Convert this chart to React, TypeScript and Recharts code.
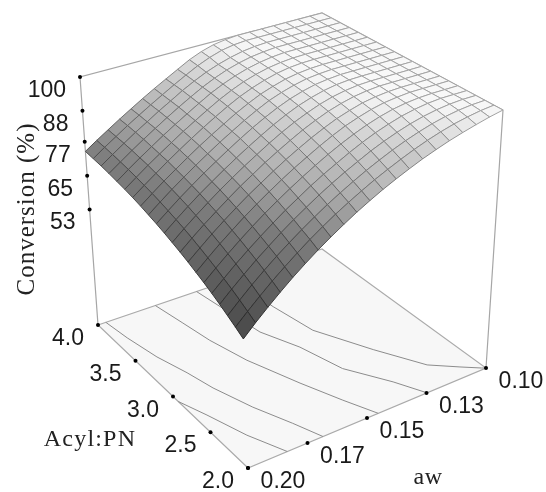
import React from "react";
import { Scatter, ScatterChart, XAxis, YAxis } from "recharts";

const awValues = [0.2, 0.195, 0.19, 0.185, 0.18, 0.175, 0.17, 0.165, 0.16, 0.155, 0.15, 0.145, 0.14, 0.135, 0.13, 0.125, 0.12, 0.115, 0.11, 0.105, 0.1];
const acylValues = [4.0, 3.9, 3.8, 3.7, 3.6, 3.5, 3.4, 3.3, 3.2, 3.1, 3.0, 2.9, 2.8, 2.7, 2.6, 2.5, 2.4, 2.3, 2.2, 2.1, 2.0];

// rows follow acylValues, columns follow awValues
const conversion = [
  [73.6, 76.3, 78.9, 81.5, 84.0, 86.5, 88.9, 91.2, 93.5, 95.8, 97.6, 98.9, 99.6, 100, 100, 100, 100, 100, 100, 100, 100],
  [73.2, 76.0, 78.6, 81.3, 83.8, 86.3, 88.7, 91.1, 93.4, 95.6, 97.4, 98.8, 99.6, 100, 100, 100, 100, 100, 100, 100, 100],
  [72.8, 75.6, 78.3, 81.0, 83.5, 86.1, 88.5, 91.0, 93.2, 95.2, 96.8, 98.1, 99.1, 99.7, 100, 100, 100, 100, 100, 100, 100],
  [72.3, 75.1, 77.9, 80.6, 83.2, 85.8, 88.3, 90.7, 93.0, 95.0, 96.7, 98.0, 99.0, 99.6, 100, 100, 100, 100, 100, 100, 100],
  [71.7, 74.6, 77.4, 80.1, 82.8, 85.4, 87.9, 90.4, 92.8, 94.8, 96.5, 97.9, 98.9, 99.6, 100, 100, 100, 100, 100, 100, 100],
  [71.1, 74.0, 76.9, 79.6, 82.3, 85.0, 87.5, 90.0, 92.4, 94.5, 96.3, 97.7, 98.8, 99.5, 99.9, 100, 100, 100, 100, 100, 100],
  [70.4, 73.3, 76.2, 79.1, 81.8, 84.5, 87.1, 89.6, 92.0, 94.2, 96.0, 97.5, 98.7, 99.5, 99.9, 100, 100, 100, 100, 100, 100],
  [69.6, 72.6, 75.6, 78.4, 81.2, 83.9, 86.5, 89.0, 91.5, 93.7, 95.7, 97.2, 98.5, 99.3, 99.8, 100, 100, 100, 100, 100, 100],
  [68.7, 71.8, 74.8, 77.7, 80.5, 83.2, 85.9, 88.4, 90.9, 93.2, 95.3, 96.9, 98.2, 99.2, 99.7, 100, 100, 100, 100, 100, 100],
  [67.8, 70.9, 74.0, 76.9, 79.8, 82.5, 85.2, 87.8, 90.3, 92.6, 94.7, 96.5, 97.9, 99.0, 99.6, 100, 100, 100, 100, 100, 100],
  [66.8, 70.0, 73.1, 76.1, 78.9, 81.7, 84.4, 87.0, 89.5, 91.9, 94.1, 96.0, 97.5, 98.7, 99.5, 99.9, 100, 100, 100, 100, 100],
  [65.7, 69.0, 72.1, 75.1, 78.1, 80.9, 83.6, 86.2, 88.8, 91.2, 93.4, 95.3, 97.0, 98.3, 99.2, 99.8, 100, 100, 100, 100, 100],
  [64.6, 67.9, 71.1, 74.1, 77.1, 80.0, 82.7, 85.4, 87.9, 90.3, 92.6, 94.6, 96.4, 97.8, 98.9, 99.6, 100, 100, 100, 100, 100],
  [63.4, 66.7, 70.0, 73.1, 76.1, 79.0, 81.7, 84.4, 87.0, 89.4, 91.7, 93.8, 95.7, 97.2, 98.5, 99.3, 99.8, 100, 100, 100, 100],
  [62.1, 65.5, 68.8, 71.9, 75.0, 77.9, 80.7, 83.4, 86.0, 88.4, 90.8, 93.0, 95.0, 96.6, 98.0, 99.0, 99.6, 100, 100, 100, 100],
  [60.8, 64.2, 67.5, 70.7, 73.8, 76.8, 79.6, 82.3, 84.9, 87.4, 89.8, 92.0, 94.0, 95.8, 97.3, 98.5, 99.3, 99.8, 100, 100, 100],
  [59.4, 62.8, 66.2, 69.4, 72.5, 75.5, 78.4, 81.1, 83.8, 86.3, 88.6, 90.9, 93.0, 94.9, 96.5, 97.9, 98.9, 99.6, 100, 100, 100],
  [57.9, 61.4, 64.8, 68.1, 71.2, 74.3, 77.2, 79.9, 82.6, 85.1, 87.5, 89.7, 91.9, 93.8, 95.5, 97.0, 98.2, 99.1, 99.7, 100, 100],
  [56.3, 59.9, 63.4, 66.7, 69.9, 72.9, 75.8, 78.6, 81.3, 83.8, 86.2, 88.5, 90.6, 92.6, 94.4, 96.0, 97.4, 98.5, 99.3, 99.8, 100],
  [54.7, 58.3, 61.8, 65.2, 68.4, 71.5, 74.5, 77.3, 80.0, 82.5, 84.9, 87.2, 89.3, 91.3, 93.2, 94.9, 96.4, 97.7, 98.7, 99.5, 100],
  [53.0, 56.7, 60.2, 63.6, 66.9, 70.0, 73.0, 75.8, 78.5, 81.1, 83.5, 85.8, 87.9, 89.9, 91.8, 93.5, 95.1, 96.5, 97.8, 99.0, 100],
];

const awTicks = [0.2, 0.175, 0.15, 0.125, 0.1];
const awTickLabels = ["0.20", "0.17", "0.15", "0.13", "0.10"];
const acylTicks = [4.0, 3.5, 3.0, 2.5, 2.0];
const acylTickLabels = ["4.0", "3.5", "3.0", "2.5", "2.0"];
const conversionTicks = [100, 88, 77, 65, 53];

// floor contours as [aw, acyl]
const contourA = [[0.14, 4.0], [0.1378, 3.548], [0.1347, 3.138], [0.1243, 2.684], [0.1148, 2.292], [0.1066, 2.127], [0.1012, 2.02], [0.1, 2.0]];
const contourB = [[0.156, 4.0], [0.1512, 3.328], [0.1447, 3.011], [0.1399, 2.612], [0.1303, 2.26], [0.1248, 2.0]];
const contourC = [[0.1744, 4.0], [0.1719, 3.715], [0.1696, 3.434], [0.1652, 3.084], [0.1573, 2.636], [0.1508, 2.284], [0.1453, 2.0]];
const contourD = [[0.1965, 4.0], [0.1949, 3.764], [0.1919, 3.46], [0.1878, 3.186], [0.1849, 2.932], [0.1793, 2.582], [0.1729, 2.258], [0.1685, 2.0]];
const contourE = [[0.2, 2.93], [0.1956, 2.684], [0.1901, 2.326], [0.1835, 2.0]];

const shadeLevels = [53, 74, 83, 94, 100];
const shadeGrays = [70, 125, 170, 210, 248];

const W = 546;
const H = 492;
const Z_MIN = 12;
const Z_MAX = 100;

// camera: box corners on screen
const floorCorners = { a: [98, 325], d: [322, 249], c: [486, 368], b: [248, 468] };
const topCorners = { a: [80, 77], d: [322, 13], c: [503, 110], b: [238, 191] };

function bilinear(q: any, u: number, v: number, i: number) {
  return (
    q.a[i] * (1 - u) * (1 - v) + q.d[i] * u * (1 - v) + q.c[i] * u * v + q.b[i] * (1 - u) * v
  );
}

function project(aw: number, acyl: number, z: number) {
  const u = (0.2 - aw) / 0.1;
  const v = (4 - acyl) / 2;
  const t = (z - Z_MIN) / (Z_MAX - Z_MIN);
  const x0 = bilinear(floorCorners, u, v, 0);
  const y0 = bilinear(floorCorners, u, v, 1);
  const x1 = bilinear(topCorners, u, v, 0);
  const y1 = bilinear(topCorners, u, v, 1);
  return { px: x0 + (x1 - x0) * t, py: y0 + (y1 - y0) * t };
}

function grayFor(z: number) {
  for (let i = 1; i < shadeLevels.length; i++) {
    if (z <= shadeLevels[i]) {
      const f = (z - shadeLevels[i - 1]) / (shadeLevels[i] - shadeLevels[i - 1]);
      return shadeGrays[i - 1] + (shadeGrays[i] - shadeGrays[i - 1]) * f;
    }
  }
  return shadeGrays[shadeGrays.length - 1];
}

function makeCell(corners: { px: number; py: number }[], extra: any) {
  const px = corners.reduce((s, c) => s + c.px, 0) / corners.length;
  const py = corners.reduce((s, c) => s + c.py, 0) / corners.length;
  return { px, py, corners, ...extra };
}

// painter's order, far corner first
const cells: any[] = [];
for (let r = 0; r < acylValues.length - 1; r++) {
  for (let c = awValues.length - 2; c >= 0; c--) {
    const zs = [conversion[r][c], conversion[r][c + 1], conversion[r + 1][c + 1], conversion[r + 1][c]];
    cells.push(
      makeCell(
        [
          project(awValues[c], acylValues[r], zs[0]),
          project(awValues[c + 1], acylValues[r], zs[1]),
          project(awValues[c + 1], acylValues[r + 1], zs[2]),
          project(awValues[c], acylValues[r + 1], zs[3]),
        ],
        { zMean: (zs[0] + zs[1] + zs[2] + zs[3]) / 4 },
      ),
    );
  }
}

const floorCell = makeCell(
  [project(0.2, 4, Z_MIN), project(0.1, 4, Z_MIN), project(0.1, 2, Z_MIN), project(0.2, 2, Z_MIN)],
  {},
);

const contourPts = (pts: number[][]) => pts.map(([aw, acyl]) => project(aw, acyl, Z_MIN));

const frameLines = [
  [project(0.2, 4, Z_MIN), project(0.2, 4, Z_MAX), project(0.1, 4, Z_MAX), project(0.1, 2, Z_MAX), project(0.1, 2, Z_MIN)],
];

const awTickPts = awTicks.map((t, i) => ({ ...project(t, 2, Z_MIN), label: awTickLabels[i] }));
const acylTickPts = acylTicks.map((t, i) => ({ ...project(0.2, t, Z_MIN), label: acylTickLabels[i] }));
const zTickPts = conversionTicks.map((t) => ({ ...project(0.2, 4, t), label: String(t) }));

const polyPoints = (p: any, cx: number, cy: number) =>
  p.corners.map((c: any) => `${cx + c.px - p.px},${cy + c.py - p.py}`).join(" ");

const CellShape = ({ cx, cy, payload }: any) => {
  const g = grayFor(payload.zMean);
  const s = Math.round(0.7 * g - 9);
  const f = Math.round(g);
  return (
    <polygon
      points={polyPoints(payload, cx, cy)}
      fill={`rgb(${f},${f},${f})`}
      stroke={`rgb(${s},${s},${s})`}
      strokeWidth={1}
      strokeLinejoin="round"
    />
  );
};

const FloorShape = ({ cx, cy, payload }: any) => (
  <polygon points={polyPoints(payload, cx, cy)} fill="#f7f7f7" stroke="#aaaaaa" strokeWidth={1.2} />
);

const NoDot = () => <g />;

const tickShape = (dx: number, dy: number, anchor: string) => ({ cx, cy, payload }: any) => (
  <g>
    <circle cx={cx} cy={cy} r={2} fill="#000" />
    {payload.label && (
      <text
        x={cx + dx}
        y={cy + dy}
        textAnchor={anchor as any}
        dominantBaseline="central"
        fontFamily="Liberation Sans"
        fontSize={23}
        fill="#1a1a1a"
      >
        {payload.label}
      </text>
    )}
  </g>
);

const axisTitleStyle = { fontFamily: "Liberation Serif", fontSize: 24, fill: "#222" };

export default function App() {
  return (
    <div style={{ position: "absolute", left: 0, top: 0, width: W, height: H, background: "#fff", filter: "blur(0.4px)" }}>
      <ScatterChart width={W} height={H} margin={{ top: 0, right: 0, bottom: 0, left: 0 }}>
        <XAxis type="number" dataKey="px" domain={[0, W]} hide />
        <YAxis type="number" dataKey="py" domain={[0, H]} reversed hide />
        <Scatter data={[floorCell]} shape={FloorShape} isAnimationActive={false} />
        {[contourA, contourB, contourC, contourD, contourE].map((pts, i) => (
          <Scatter
            key={i}
            data={contourPts(pts)}
            line={{ stroke: "#8c8c8c", strokeWidth: 1 }}
            shape={NoDot}
            isAnimationActive={false}
          />
        ))}
        {frameLines.map((pts, i) => (
          <Scatter
            key={i}
            data={pts}
            line={{ stroke: "#a6a6a6", strokeWidth: 1.2 }}
            shape={NoDot}
            isAnimationActive={false}
          />
        ))}
        <Scatter data={cells} shape={CellShape} isAnimationActive={false} />
        <Scatter data={awTickPts} shape={tickShape(35, 12, "middle")} isAnimationActive={false} />
        <Scatter data={acylTickPts} shape={tickShape(-30, 12, "middle")} isAnimationActive={false} />
        <Scatter data={zTickPts} shape={tickShape(-14, 12, "end")} isAnimationActive={false} />
        <text x={90} y={438} textAnchor="middle" dominantBaseline="central" letterSpacing={1.2} {...axisTitleStyle}>
          Acyl:PN
        </text>
        <text x={428} y={476} textAnchor="middle" dominantBaseline="central" letterSpacing={0.5} {...axisTitleStyle}>
          aw
        </text>
        <text
          x={25}
          y={209}
          textAnchor="middle"
          dominantBaseline="central"
          transform="rotate(-90 25 209)"
          letterSpacing={1}
          {...axisTitleStyle}
          fontSize={25}
        >
          Conversion (%)
        </text>
      </ScatterChart>
    </div>
  );
}
